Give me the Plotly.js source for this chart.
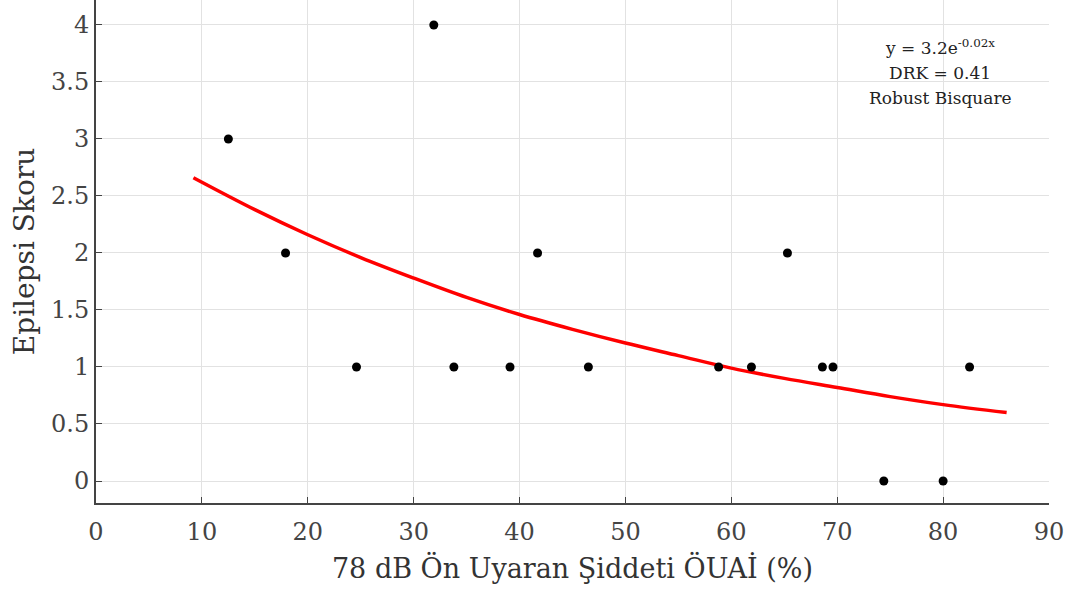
<!DOCTYPE html>
<html><head><meta charset="utf-8">
<script src="https://cdn.plot.ly/plotly-3.0.1.min.js"></script>
<style>html,body{margin:0;padding:0;background:#fff}</style>
</head><body><div id="chart" style="width:1089px;height:598px"></div>
<script>
// Observed data points (ÖUAİ %, Epilepsi Skoru)
const pointsX = [12.5, 17.9, 24.6, 31.9, 33.8, 39.1, 41.7, 46.5, 58.8, 61.9, 65.3, 68.6, 69.6, 74.4, 80.0, 82.5];
const pointsY = [3, 2, 1, 4, 1, 1, 2, 1, 1, 1, 2, 1, 1, 0, 0, 1];
// Fitted curve
const fitX = [9.2, 15, 20, 25, 30, 35, 40, 45, 50, 55, 60, 65, 70, 75, 80, 86];
const fitY = [2.66, 2.38, 2.16, 1.96, 1.78, 1.61, 1.46, 1.33, 1.21, 1.10, 0.99, 0.90, 0.82, 0.74, 0.67, 0.60];
const xTicks = [0, 10, 20, 30, 40, 50, 60, 70, 80, 90];
const yTicks = [0, 0.5, 1, 1.5, 2, 2.5, 3, 3.5, 4];
const fitText = ['y = 3.2e<sup>-0.02x</sup>', 'DRK = 0.41', 'Robust Bisquare'];

const font = 'DejaVu Serif';
const traces = [
  {x: fitX, y: fitY, mode: 'lines', line: {color: '#ff0000', width: 3.5, shape: 'spline'}, hoverinfo: 'skip'},
  {x: pointsX, y: pointsY, mode: 'markers', marker: {color: '#000', size: 9}}
];
const layout = {
  width: 1089, height: 598,
  margin: {l: 96, r: 40, t: 0, b: 95},
  paper_bgcolor: '#fff', plot_bgcolor: '#fff',
  showlegend: false,
  font: {family: font, color: '#333'},
  xaxis: {
    range: [0, 90], tickvals: xTicks, ticktext: xTicks.map(String),
    showgrid: true, gridcolor: '#e2e2e2', gridwidth: 1,
    zeroline: false, showline: true, linecolor: '#444', linewidth: 2,
    ticks: 'inside', ticklen: 6, tickcolor: '#444',
    ticklabelstandoff: 6,
    tickfont: {size: 24, color: '#444'},
    title: {text: '78 dB Ön Uyaran Şiddeti ÖUAİ (%)', font: {size: 27, color: '#333'}, standoff: 14}
  },
  yaxis: {
    range: [-0.193, 4.219], tickvals: yTicks, ticktext: yTicks.map(String),
    showgrid: true, gridcolor: '#e2e2e2', gridwidth: 1,
    zeroline: false, showline: true, linecolor: '#444', linewidth: 2,
    ticks: 'inside', ticklen: 6, tickcolor: '#444',
    tickfont: {size: 24, color: '#444'},
    title: {text: 'Epilepsi Skoru', font: {size: 28, color: '#333'}, standoff: 8}
  },
  annotations: fitText.map((t, i) => ({
    xref: 'paper', yref: 'paper', x: 0.886, y: 1 - (47 + i * 25.5) / 503,
    text: t, showarrow: false, xanchor: 'center', yanchor: 'middle',
    font: {family: font, size: 17, color: '#222'}
  }))
};
Plotly.newPlot('chart', traces, layout, {displayModeBar: false, staticPlot: true});
</script></body></html>
